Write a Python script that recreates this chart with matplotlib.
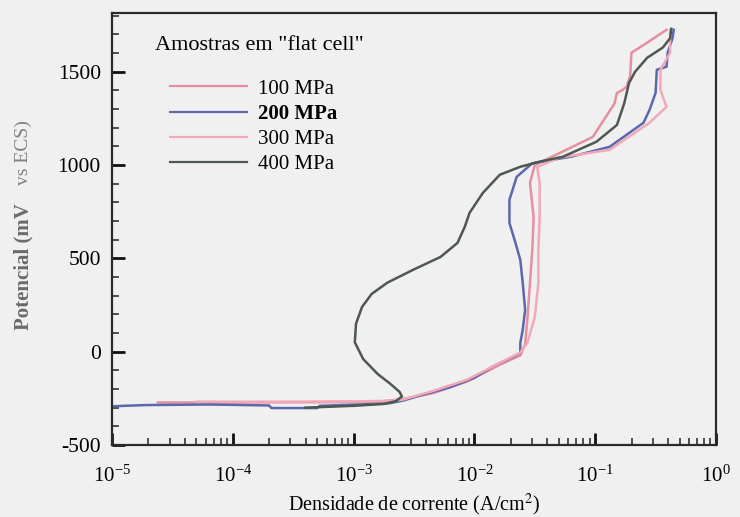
import numpy as np
import matplotlib
matplotlib.use("Agg")
import matplotlib.pyplot as plt
from matplotlib.ticker import LogLocator, LogFormatterMathtext, MultipleLocator, NullFormatter

plt.rcParams['font.family'] = ['Liberation Serif', 'DejaVu Serif']
plt.rcParams['mathtext.fontset'] = 'stix'
plt.rcParams['axes.unicode_minus'] = False

# Potentiodynamic polarization curves: log10 current density and potential (mV vs ECS)
logi_100 = [-4.62, -4.0, -3.5, -3.0, -2.8, -2.6, -2.34, -2.06, -1.79, -1.62, -1.58, -1.56,
            -1.54, -1.52, -1.51, -1.54, -1.50, -1.29, -1.02, -0.84, -0.82, -0.78, -0.74,
            -0.71, -0.70, -0.57, -0.41]
e_100 = [-272, -272, -271, -270, -268, -255, -222, -160, -70, -20, 40, 186,
         369, 550, 722, 905, 1000, 1066, 1151, 1330, 1387, 1400, 1420,
         1480, 1602, 1656, 1725]

logi_200 = [-4.98, -4.72, -4.2, -3.70, -3.68, -3.30, -3.28, -2.9, -2.7, -2.59, -2.45, -2.2,
            -2.0, -1.85, -1.72, -1.68, -1.62, -1.62, -1.60, -1.58, -1.60, -1.62, -1.66,
            -1.71, -1.71, -1.65, -1.52, -1.2, -0.88, -0.60, -0.55, -0.50, -0.49, -0.41,
            -0.40, -0.36, -0.35]
e_200 = [-292, -286, -283, -288, -302, -302, -290, -282, -276, -262, -235, -190,
         -140, -80, -40, -28, -7, 47, 117, 224, 369, 492, 583,
         690, 814, 937, 1010, 1045, 1098, 1227, 1296, 1387, 1511, 1527,
         1602, 1680, 1725]

logi_300 = [-4.3, -3.6, -3.0, -2.75, -2.6, -2.34, -2.06, -1.79, -1.62, -1.56, -1.50, -1.47,
            -1.47, -1.46, -1.46, -1.48, -1.3, -0.88, -0.55, -0.41, -0.44, -0.46, -0.46,
            -0.38, -0.38]
e_300 = [-268, -268, -266, -264, -258, -210, -150, -60, -5, 50, 186, 369,
         545, 720, 905, 990, 1040, 1082, 1227, 1312, 1366, 1403, 1511,
         1602, 1725]

logi_400 = [-3.4, -3.0, -2.75, -2.65, -2.60, -2.62, -2.70, -2.80, -2.92, -2.99, -2.98, -2.93,
            -2.85, -2.72, -2.51, -2.28, -2.14, -2.08, -2.04, -1.93, -1.79, -1.62, -1.45,
            -1.27, -0.99, -0.82, -0.76, -0.72, -0.67, -0.57, -0.44, -0.38, -0.37]
e_400 = [-300, -290, -280, -265, -240, -215, -170, -120, -40, 50, 150, 240,
         310, 370, 438, 508, 583, 669, 744, 851, 948, 991, 1020,
         1044, 1125, 1215, 1330, 1440, 1500, 1575, 1630, 1680, 1730]

labels = ["100 MPa", "200 MPa", "300 MPa", "400 MPa"]
colors = ["#e58fa0", "#5b68ad", "#f2a9b7", "#4d5852"]
series_logi = [logi_100, logi_200, logi_300, logi_400]
series_e = [e_100, e_200, e_300, e_400]

bg = "#f0f0f0"
fig = plt.figure(figsize=(7.40, 5.17), dpi=100, facecolor=bg)
ax = fig.add_axes([112 / 740, 1 - 445 / 517, 604 / 740, 432 / 517], facecolor=bg)

for lx, ev, lab, col in zip(series_logi, series_e, labels, colors):
    ax.plot(10 ** np.array(lx), ev, color=col, lw=1.8, label=lab)

ax.set_xscale('log')
ax.set_xlim(1e-5, 1e0)
ax.set_ylim(-500, 1815)

ax.xaxis.set_major_locator(LogLocator(base=10, numticks=10))
ax.xaxis.set_minor_locator(LogLocator(base=10, subs=np.arange(2, 10), numticks=20))
ax.xaxis.set_major_formatter(LogFormatterMathtext())
ax.xaxis.set_minor_formatter(NullFormatter())
ax.yaxis.set_major_locator(MultipleLocator(500))
ax.yaxis.set_minor_locator(MultipleLocator(100))

ax.tick_params(which='major', direction='in', length=9, width=2.0, color='#111111',
               labelsize=15.5, pad=8)
ax.tick_params(which='minor', direction='in', length=5, width=1.2, color='#333333')
ax.tick_params(axis='x', which='major', labelsize=15, pad=15)

for s in ax.spines.values():
    s.set_color('#2a2a2a')
    s.set_linewidth(1.6)

# legend block: heading plus one line per sample
ax.text((155 - 112) / 604, (445 - 45) / 432, 'Amostras em "flat cell"',
        transform=ax.transAxes, ha='left', va='center', fontsize=16)
leg = ax.legend(loc='upper left', bbox_to_anchor=((170 - 112) / 604, (445 - 79) / 432),
                frameon=False, fontsize=15, handlelength=3.7, handletextpad=0.5,
                labelspacing=0.26, borderaxespad=0, borderpad=0)
leg.get_texts()[1].set_fontweight('bold')
for h in leg.get_lines():
    h.set_linewidth(1.6)

fig.text(414 / 740, 1 - 505 / 517, 'Densidade de corrente (A/cm$^2$)',
         ha='center', va='center', fontsize=14.5)
fig.text(28 / 740, 1 - 330 / 517, 'Potencial (mV', rotation=90, rotation_mode='anchor',
         ha='left', va='baseline', fontsize=15, color='#6a6a6a', fontweight='bold')
fig.text(28 / 740, 1 - 120 / 517, 'vs ECS)', rotation=90, rotation_mode='anchor',
         ha='right', va='baseline', fontsize=14, color='#808080')

fig.savefig('out.png', dpi=100, facecolor=bg)
